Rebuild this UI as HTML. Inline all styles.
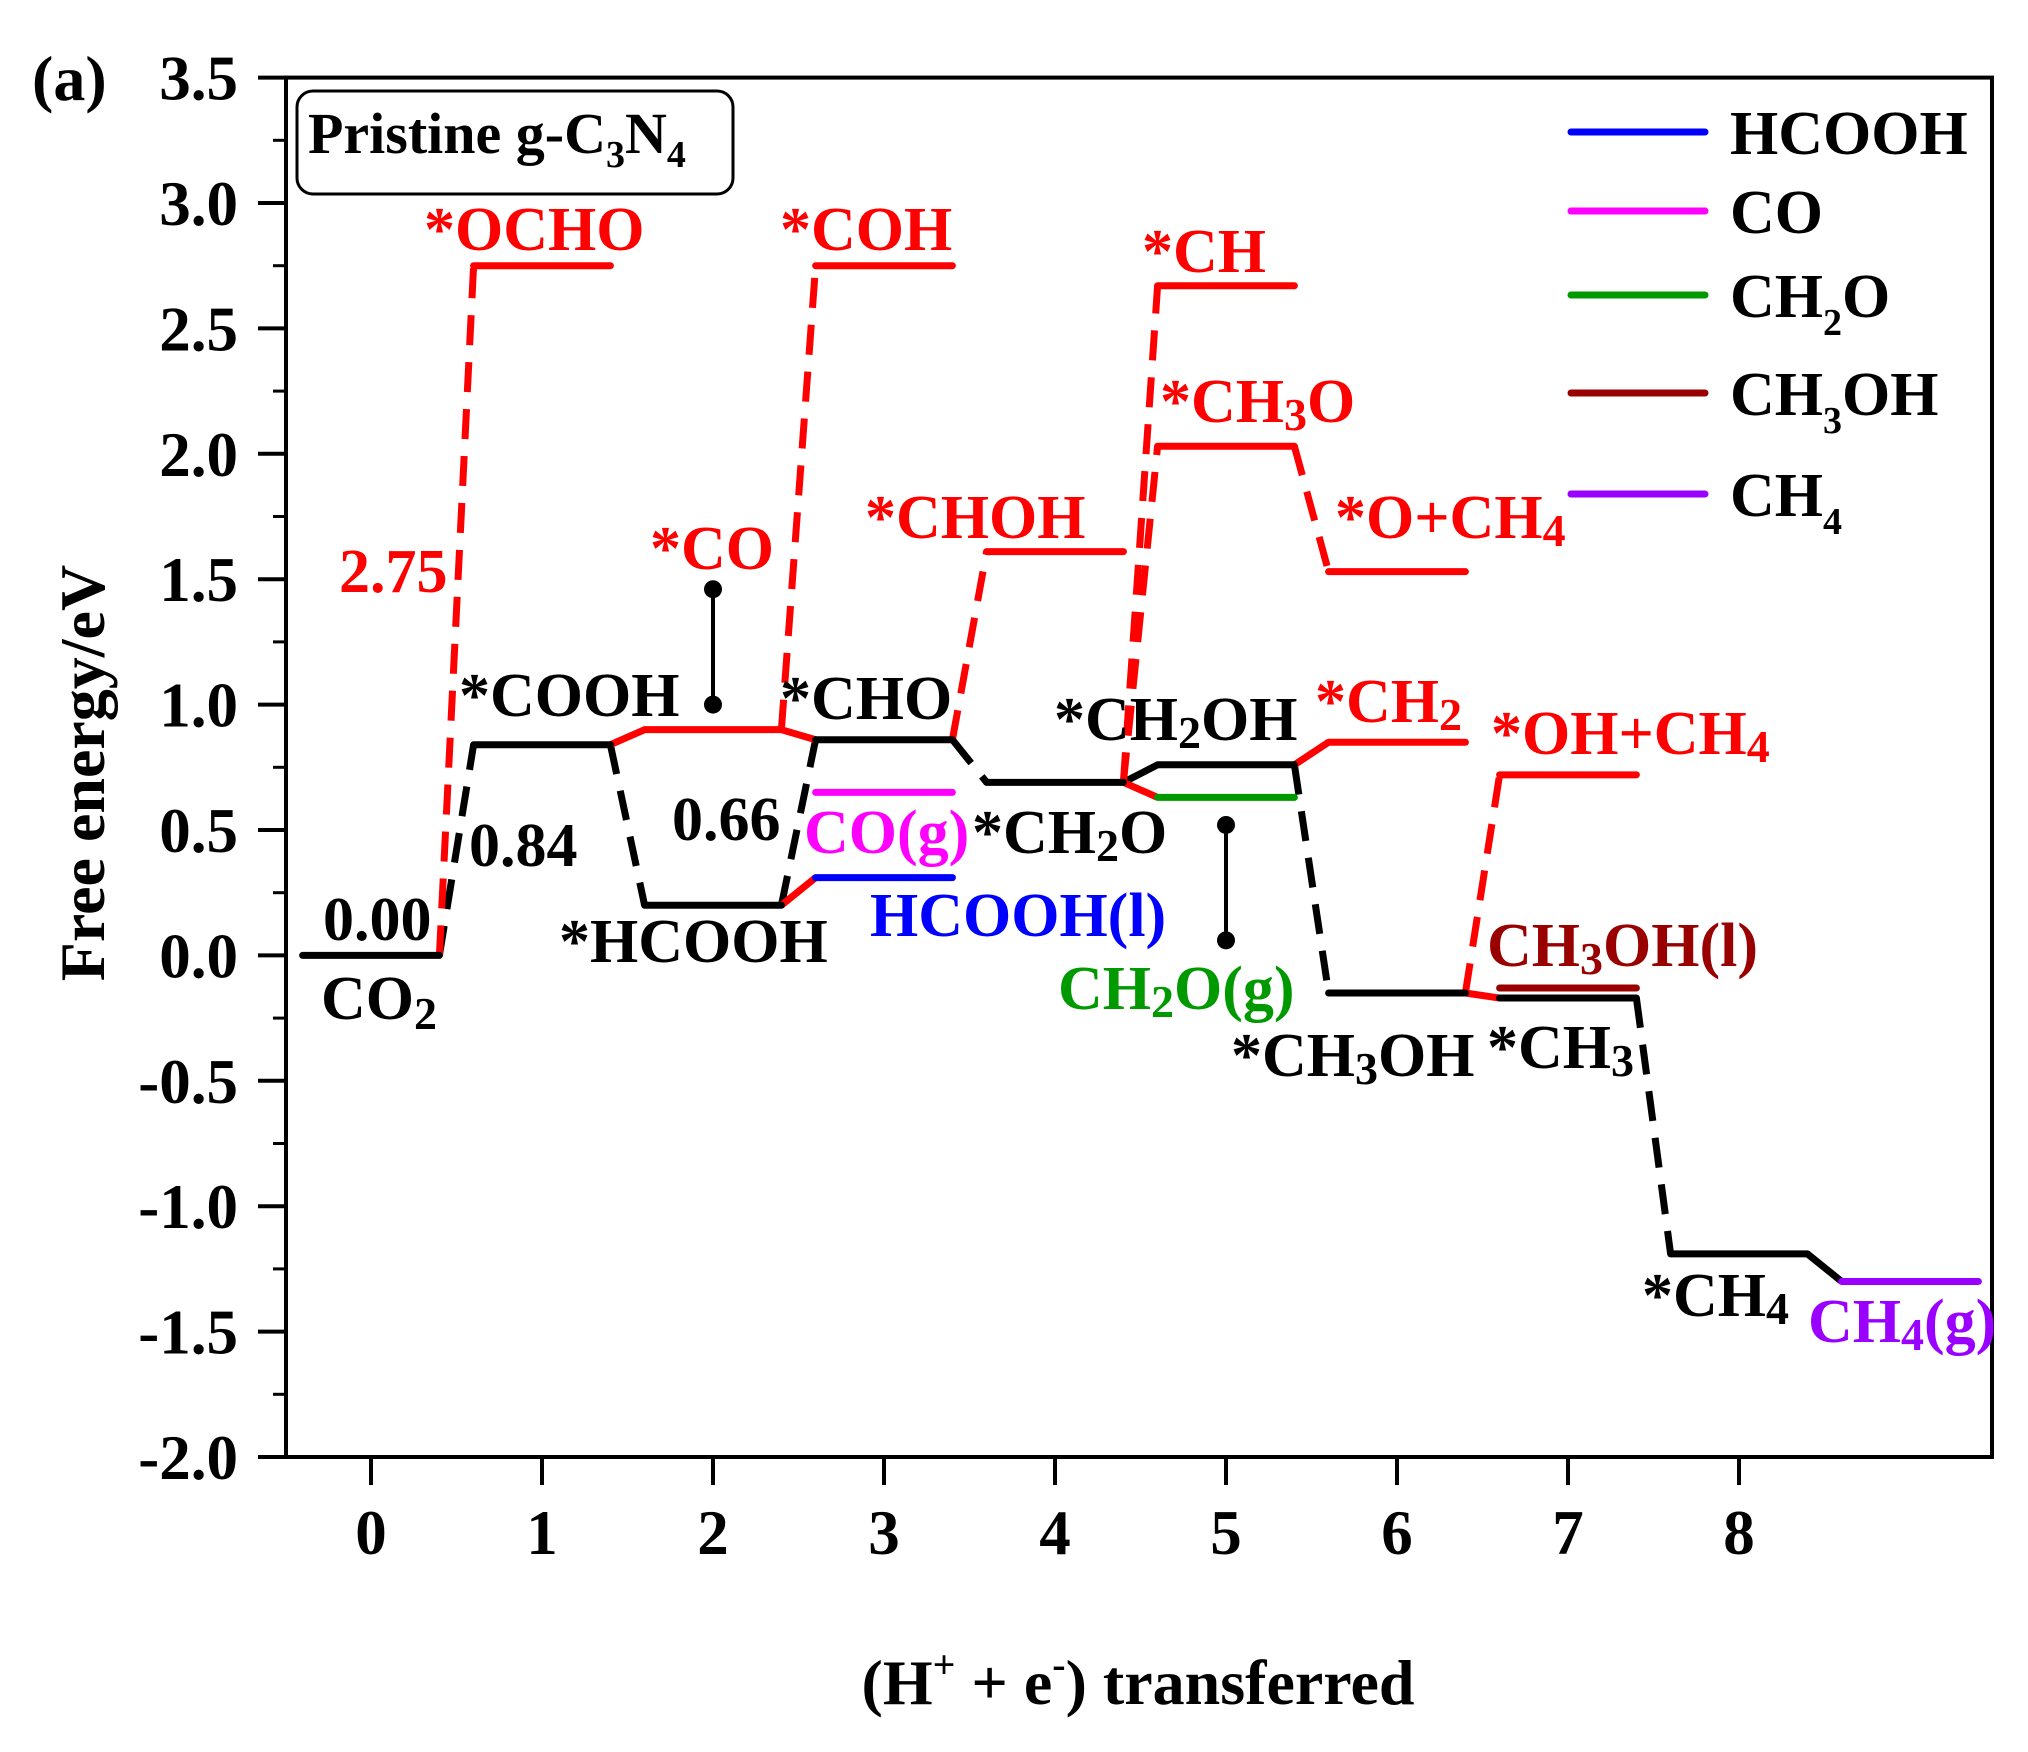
<!DOCTYPE html>
<html><head><meta charset="utf-8"><style>
html,body{margin:0;padding:0;background:#fff;}
svg{display:block;}
svg text{font-family:"Liberation Serif","Times New Roman",serif;font-weight:bold;}
</style></head><body>
<svg id="chart" width="2028" height="1752" viewBox="0 0 2028 1752" xmlns="http://www.w3.org/2000/svg">
<rect width="2028" height="1752" fill="#fff"/>
<g id="axes"></g>
<g id="marks"></g>
<g id="labels" font-size="62">
<text x="32" y="100" font-size="64">(a)</text>
<rect x="297" y="91" width="436" height="103" rx="16" fill="none" stroke="#000" stroke-width="3"/>
<text x="308" y="153" font-size="58">Pristine g-C<tspan font-size="38" dy="14">3</tspan><tspan dy="-14">N</tspan><tspan font-size="38" dy="14">4</tspan></text>
<g fill="#ff0000">
<text x="424" y="250">*OCHO</text>
<text x="780" y="250">*COH</text>
<text x="1142" y="272">*CH</text>
<text x="1160" y="422">*CH<tspan font-size="46" dy="8">3</tspan><tspan dy="-8">O</tspan></text>
<text x="865" y="538">*CHOH</text>
<text x="1335" y="538">*O+CH<tspan font-size="46" dy="8">4</tspan></text>
<text x="339" y="592">2.75</text>
<text x="650" y="569">*CO</text>
<text x="1315" y="722">*CH<tspan font-size="46" dy="8">2</tspan></text>
<text x="1491" y="754">*OH+CH<tspan font-size="46" dy="8">4</tspan></text>
</g>
<text x="459" y="716">*COOH</text>
<text x="780" y="719">*CHO</text>
<text x="1054" y="740">*CH<tspan font-size="46" dy="8">2</tspan><tspan dy="-8">OH</tspan></text>
<text x="469" y="866">0.84</text>
<text x="672" y="840">0.66</text>
<text x="804" y="853" fill="#ff00ff">CO(g)</text>
<text x="972" y="853">*CH<tspan font-size="46" dy="8">2</tspan><tspan dy="-8">O</tspan></text>
<text x="323" y="940">0.00</text>
<text x="559" y="962">*HCOOH</text>
<text x="870" y="936" fill="#0000ff">HCOOH(l)</text>
<text x="1487" y="966" fill="#990000">CH<tspan font-size="46" dy="8">3</tspan><tspan dy="-8">OH(l)</tspan></text>
<text x="321" y="1019">CO<tspan font-size="46" dy="10">2</tspan></text>
<text x="1058" y="1009" fill="#009900">CH<tspan font-size="46" dy="8">2</tspan><tspan dy="-8">O(g)</tspan></text>
<text x="1231" y="1076">*CH<tspan font-size="46" dy="8">3</tspan><tspan dy="-8">OH</tspan></text>
<text x="1487" y="1068">*CH<tspan font-size="46" dy="8">3</tspan></text>
<text x="1642" y="1316">*CH<tspan font-size="46" dy="8">4</tspan></text>
<text x="1808" y="1342" fill="#9900ff">CH<tspan font-size="46" dy="8">4</tspan><tspan dy="-8">(g)</tspan></text>
</g>
<g id="legend" font-size="62"></g>
<text transform="translate(104,773) rotate(-90)" text-anchor="middle" font-size="64">Free energy/eV</text>
<text x="1138" y="1704" text-anchor="middle" font-size="64">(H<tspan font-size="40" dy="-26">+</tspan><tspan dy="26"> + e</tspan><tspan font-size="40" dy="-26">-</tspan><tspan dy="26">) transferred</tspan></text>
</svg>
<script>
const NS = "http://www.w3.org/2000/svg";
// data
const xTicks = [0,1,2,3,4,5,6,7,8];
const yTicks = [-2.0,-1.5,-1.0,-0.5,0.0,0.5,1.0,1.5,2.0,2.5,3.0,3.5];
const levelSteps  = [0,1,2,3,4,5,6,7,8,9, 1,2,3,4,5,5,6,6,7, 3,3,5,7];
const levelValues = [0.00,0.84,0.20,0.86,0.69,0.76,-0.15,-0.17,-1.19,-1.30, 2.75,0.90,2.75,1.61,2.67,2.03,1.53,0.85,0.72, 0.31,0.65,0.63,-0.13];
const levelColors = ["#000","#000","#000","#000","#000","#000","#000","#000","#000","#9900ff","#ff0000","#ff0000","#ff0000","#ff0000","#ff0000","#ff0000","#ff0000","#ff0000","#ff0000","#0000ff","#ff00ff","#009900","#990000"];
const levelNames = ["co2","cooh","hcooh","cho","ch2o","ch2oh","ch3oh","ch3","ch4","ch4-g","ocho","co","coh","choh","ch","ch3o","o-ch4","ch2","oh-ch4","hcooh-l","co-g","ch2o-g","ch3oh-l"];
// connectors: from step, from value, to value, color, dashed
const connFrom   = [0,1,2,3,4,5,7,8, 0,1,2,2,3,4,4,5,5,6,6,2,4];
const connFromV  = [0.00,0.84,0.20,0.86,0.69,0.76,-0.17,-1.19, 0.00,0.84,0.90,0.90,0.86,0.69,0.69,2.03,0.76,-0.15,-0.15,0.20,0.69];
const connToV    = [0.84,0.20,0.86,0.69,0.76,-0.15,-1.19,-1.30, 2.75,0.90,2.75,0.86,1.61,2.67,2.03,1.53,0.85,0.72,-0.17,0.31,0.63];
const connColors = ["#000","#000","#000","#000","#000","#000","#000","#000","#ff0000","#ff0000","#ff0000","#ff0000","#ff0000","#ff0000","#ff0000","#ff0000","#ff0000","#ff0000","#ff0000","#ff0000","#ff0000"];
const connDashed = [1,1,1,1,0,1,1,0, 1,0,1,0,1,1,1,1,0,1,0,0,0];
const barSteps = [2,5];
const barLow = [1.00,0.06];
const barHigh = [1.46,0.52];
const legendNames = ["HCOOH","CO","CH2O","CH3OH","CH4"];
const legendColors = ["#0000ff","#ff00ff","#009900","#990000","#9900ff"];

const X = s => 371 + s*171;
const Y = v => 955.4 - v*250.8;
function mk(tag, attrs, parent){const e=document.createElementNS(NS,tag);for(const k in attrs)e.setAttribute(k,attrs[k]);parent.appendChild(e);return e;}
const axes=document.getElementById('axes'), marks=document.getElementById('marks'), legend=document.getElementById('legend');

const frame = mk('rect',{x:286,y:Y(3.5),width:1706,height:Y(-2)-Y(3.5),fill:'none',stroke:'#000','stroke-width':4},axes);


yTicks.forEach(v=>{
  const t=mk('line',{x1:258,x2:286,y1:Y(v),y2:Y(v),stroke:'#000','stroke-width':4},axes);
  
  
  if(v<3.5){const m=mk('line',{x1:273,x2:286,y1:Y(v+0.25),y2:Y(v+0.25),stroke:'#000','stroke-width':3},axes);
    
    }
  const l=mk('text',{x:238,y:Y(v)+22,'text-anchor':'end','font-size':63},axes);
  
  
  l.textContent=v.toFixed(1);
});
xTicks.forEach(s=>{
  const t=mk('line',{x1:X(s),x2:X(s),y1:Y(-2),y2:Y(-2)+28,stroke:'#000','stroke-width':4},axes);
  
  
  const l=mk('text',{x:X(s),y:1554,'text-anchor':'middle','font-size':63},axes);
  
  
  l.textContent=String(s);
});
connFrom.forEach((s,i)=>{
  const a={x1:X(s+0.4),y1:Y(connFromV[i]),x2:X(s+0.6),y2:Y(connToV[i]),stroke:connColors[i],'stroke-width':7};
  if(connDashed[i]) a['stroke-dasharray']='30 17';
  const e=mk('line',a,marks);
  
  
});
levelSteps.forEach((s,i)=>{
  const e=mk('line',{x1:X(s-0.4),x2:X(s+0.4),y1:Y(levelValues[i]),y2:Y(levelValues[i]),stroke:levelColors[i],'stroke-width':7,'stroke-linecap':'round'},marks);
  
  
});
barSteps.forEach((s,i)=>{
  const l=mk('line',{x1:X(s),x2:X(s),y1:Y(barLow[i]),y2:Y(barHigh[i]),stroke:'#000','stroke-width':4},marks);
  
  
  [barLow[i],barHigh[i]].forEach(v=>{
    const c=mk('circle',{cx:X(s),cy:Y(v),r:9,fill:'#000'},marks);
    
    
  });
});
const legY=[132,211,295,393,494];
legendNames.forEach((n,i)=>{
  const l=mk('line',{x1:1571,x2:1705,y1:legY[i],y2:legY[i],stroke:legendColors[i],'stroke-width':7,'stroke-linecap':'round'},legend);
  
  
  const t=mk('text',{x:1730,y:legY[i]+22},legend);
  
  
  const m=n.match(/^([A-Z]+?)(\d)(.*)$/);
  if(m){t.appendChild(document.createTextNode(m[1]));
    const sb=mk('tspan',{'font-size':38,dy:18},t);sb.textContent=m[2];
    if(m[3]){const r=mk('tspan',{dy:-18},t);r.textContent=m[3];}
  } else t.textContent=n;
});
</script>
</body></html>
